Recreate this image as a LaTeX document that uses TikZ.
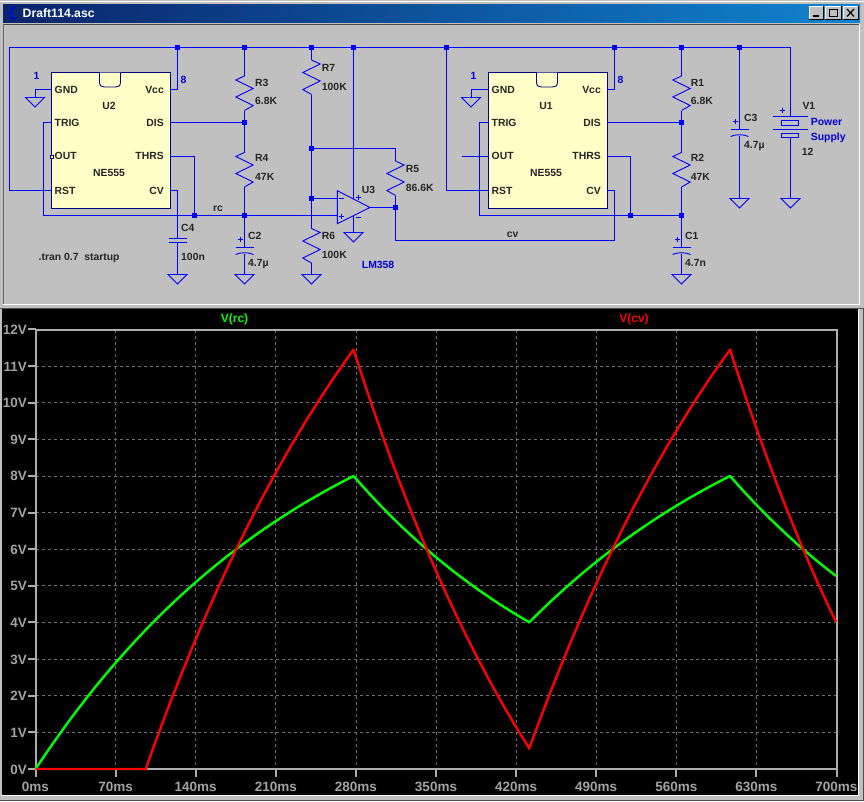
\documentclass[tikz,border=0pt]{standalone}
\usepackage{fontspec}
\setmainfont{Liberation Sans}
\definecolor{wingray}{HTML}{C0C0C0}
\definecolor{wire}{HTML}{0000FF}
\definecolor{ic}{HTML}{FFFFC8}
\definecolor{icline}{HTML}{000080}
\definecolor{titleL}{HTML}{0A246A}
\definecolor{titleR}{HTML}{1084D0}
\definecolor{gridc}{HTML}{707070}
\definecolor{traceG}{HTML}{00FF00}
\definecolor{traceR}{HTML}{FF0000}
\tikzset{
  x=1pt,y=-1pt,
  wires/.style={draw=wire,line width=0.9pt,line join=miter},
  chip/.style={fill=ic,draw=icline,line width=0.9pt},
  txt/.style={font=\fontsize{10.4}{12}\selectfont\bfseries,inner sep=0pt,text=black!85},
  lab/.style={txt,anchor=base west,yshift=-3.7pt},
  labr/.style={txt,anchor=base east,yshift=-3.7pt},
  labc/.style={txt,anchor=base,yshift=-3.7pt},
  bl/.style={text=wire!85!black},
  axl/.style={font=\fontsize{13.5}{15}\selectfont\bfseries,inner sep=0pt,text=wingray!85!black},
  axisline/.style={draw=wingray!90!black,line width=2pt},
  gridl/.style={draw=gridc,line width=0.8pt,dash pattern=on 3pt off 3pt},
  tr/.style={line width=2.4pt,line join=round},
  btn/.style={fill=wingray,draw=black,line width=0.8pt},
  jun/.style={fill=wire,draw=none}
}
% ground: name, top-centre coordinate
\newcommand{\Gnd}[2]{\coordinate (#1) at (#2);
  \draw[wires] (#1) ++(-9.5,0) -- ++(19,0) -- ++(-9.5,9.5) -- cycle;}
% resistor: name, top, flip
\newcommand{\Res}[3]{\begin{scope}[shift={(#2)}]
  \coordinate (#1t) at (0,0); \coordinate (#1b) at (0,34.5);
  \draw[wires] (#1t) -- ({#3*8.7},4) -- ({-#3*8.7},12.5) -- ({#3*8.7},21) -- ({-#3*8.7},29.5) -- (#1b);
  \end{scope}}
% polar cap: name, top plate
\newcommand{\PCap}[2]{\begin{scope}[shift={(#2)}]
  \coordinate (#1t) at (0,0); \coordinate (#1b) at (0,6);
  \draw[wires] (-9,0) -- (9,0);
  \draw[wires] (-9,7) .. controls (-4,4.6) and (4,4.6) .. (9,7);
  \draw[wires] (-6.5,-8) -- (-1.5,-8) (-4,-10.5) -- (-4,-5.5);
  \end{scope}}
% 555 chip: name, left x, reference text
\newcommand{\Chip}[3]{%
  \node[chip,inner sep=0pt,minimum width=118.9pt,minimum height=135.9pt,anchor=north west] (#1) at ({#2-0.45},72.05) {};
  \draw[chip] ({#2+48},72.5) -- ({#2+48},82) .. controls ({#2+48},86) and ({#2+50},87) .. ({#2+53},87) -- ({#2+64},87) .. controls ({#2+67},87) and ({#2+69},86) .. ({#2+69},82) -- ({#2+69},72.5);
  \node[labc] (#1name) at ({#2+57.5},106) {#3};
  \node[labc] (#1type) at ({#2+57.5},173) {NE555};
  \node[lab] (#1gnd) at ({#2+3},89.5) {GND};
  \node[lab] (#1trig) at ({#2+3},122.5) {TRIG};
  \node[lab] (#1out) at ({#2+3},156) {OUT};
  \node[lab] (#1rst) at ({#2+3},190.5) {RST};
  \node[labr] (#1vcc) at ({#2+112.5},89.5) {Vcc};
  \node[labr] (#1dis) at ({#2+112.5},122.5) {DIS};
  \node[labr] (#1thrs) at ({#2+112.5},156) {THRS};
  \node[labr] (#1cv) at ({#2+112.5},190.5) {CV};
  \coordinate (#1pgnd) at (#2,89.5);
  \coordinate (#1ptrig) at (#2,122.5);
  \coordinate (#1pout) at (#2,156);
  \coordinate (#1prst) at (#2,190.5);
  \coordinate (#1pvcc) at ({#2+118},89.5);
  \coordinate (#1pdis) at ({#2+118},122.5);
  \coordinate (#1pthrs) at ({#2+118},156);
  \coordinate (#1pcv) at ({#2+118},190.5);
}
\begin{document}
\begin{tikzpicture}
\useasboundingbox (0,0) rectangle (864,801);
% window
\fill[wingray] (0,0) rectangle (864,801);
\draw[white,line width=1pt] (0,1.5) -- (864,1.5);
\shade[left color=titleL,right color=titleR] (3,4) rectangle (860,22);
\draw[black!70,line width=1pt] (3,24) -- (860,24);
\draw[black!60,line width=1pt] (3.5,24) -- (3.5,304);
\draw[white,line width=1.2pt] (3,304.5) -- (860,304.5) (859.5,24) -- (859.5,304);
\draw[black!70,line width=1pt] (0,308) -- (864,308);
\node[font=\fontsize{12.2}{14}\selectfont\bfseries,text=white,anchor=west,inner sep=0pt] (wintitle) at (22.5,13) {Draft114.asc};
\draw[wire,line width=1pt] (11,7) -- (11,19) (6,13) -- (11,13) (11,10) -- (16,6.5) (11,16) -- (16,19.5);
% buttons
\fill[btn] (809,6) rectangle (823,19);
\fill[btn] (825,6) rectangle (841,19);
\fill[btn] (843,6) rectangle (858,19);
\draw[white,line width=0.8pt] (809,19) |- (823,6) (825,19) |- (841,6) (843,19) |- (858,6);
\draw[black,line width=1.6pt] (813,16) -- (819,16);
\draw[black,line width=1pt] (829,9) rectangle (837,16.5);
\draw[black,line width=1.2pt] (847,9) -- (854,16.5) (854,9) -- (847,16.5);

% chips
\Chip{U2}{51.5}{U2}
\Chip{U1}{488.5}{U1}

% net end points
\coordinate (tl) at (9.5,47.5);
\coordinate (tr) at (790.5,47.5);
\coordinate (rcl) at (43.5,215.5);

% resistors
\Res{R3}{244.5,76}{-1}
\Res{R4}{244.5,152.5}{-1}
\Res{R7}{311.5,60}{1}
\Res{R5}{395.5,161}{1}
\Res{R6}{311.5,228.5}{1}
\Res{R1}{681.5,76}{-1}
\Res{R2}{681.5,152.5}{-1}
% capacitors
\PCap{C2}{244.5,247.5}
\PCap{C1}{681.5,247.5}
\PCap{C3}{739.5,129.5}
\coordinate (C4t) at (177.5,238.5);
\coordinate (C4b) at (177.5,242.5);
\draw[wires] (168.5,238.5) -- (186.5,238.5) (168.5,242.5) -- (186.5,242.5);
% grounds
\Gnd{G1}{35,97.5}
\Gnd{G2}{471,97.5}
\Gnd{G3}{177.5,274.5}
\Gnd{G4}{244.5,274.5}
\Gnd{G5}{311.5,274.5}
\Gnd{G6}{353.5,232.5}
\Gnd{G7}{681.5,274.5}
\Gnd{G8}{739.5,198.5}
\Gnd{G9}{790.5,198.5}
% opamp
\coordinate (Oa) at (337.3,190.7);
\coordinate (Ob) at (337.3,223.7);
\coordinate (Oc) at (370,207.5);
\draw[wires] (Oa) -- (Oc) -- (Ob) -- cycle;
\coordinate (Oinm) at (337.3,198.5);
\coordinate (Oinp) at (337.3,215.5);
\coordinate (Ovp) at (353.5,198.9);
\coordinate (Ovm) at (353.5,215.7);
\draw[wires] (339,198) -- (344,198) (339,216) -- (344,216) (341.5,213.5) -- (341.5,218.5);
\draw[wires] (355.5,197) -- (360.5,197) (358,194.5) -- (358,199.5) (355.5,217) -- (360.5,217);
% battery
\coordinate (V1t) at (790.5,116.5);
\coordinate (V1b) at (790.5,137.3);
\draw[wires] (773.3,116.5) -- (807.7,116.5) (773.3,129.5) -- (807.7,129.5);
\draw[wires] (781.7,120.7) rectangle (798.7,125.3) (781.7,133) rectangle (798.7,137.3);
\draw[wires] (779.5,110) -- (784.5,110) (782,107.5) -- (782,112.5);

% net junction coordinates
\coordinate (jA) at (177.5,47.5);
\coordinate (jB) at (244.5,47.5);
\coordinate (jC) at (311.5,47.5);
\coordinate (jD) at (353.5,47.5);
\coordinate (jE) at (446.5,47.5);
\coordinate (jF) at (614.5,47.5);
\coordinate (jG) at (681.5,47.5);
\coordinate (jH) at (739.5,47.5);
\coordinate (jI) at (244.5,122.5);
\coordinate (jJ) at (194.5,215.5);
\coordinate (jK) at (244.5,215.5);
\coordinate (jL) at (311.5,148.5);
\coordinate (jM) at (311.5,198.5);
\coordinate (jN) at (395.5,207.5);
\coordinate (jO) at (681.5,122.5);
\coordinate (jP) at (630.5,215.5);
\coordinate (jQ) at (681.5,215.5);
\coordinate (OUTend) at (462,156);

% wires
\draw[wires] (U2prst) -| (tl) -- (tr) -- (V1t);
\draw[wires] (V1b) -- (G9);
\draw[wires] (U2pgnd) -| (G1);
\draw[wires] (U2pvcc) -| (jA);
\draw[wires] (U2pdis) -- (jI);
\draw[wires] (U2pthrs) -| (jJ);
\draw[wires] (U2pcv) -| (C4t);
\draw[wires] (C4b) -- (G3);
\draw[wires] (U2ptrig) -| (rcl) -- (Oinp);
\draw[wires] (jB) -- (R3t) (R3b) -- (jI) -- (R4t) (R4b) -- (jK) -- (C2t) (C2b) -- (G4);
\draw[wires] (jC) -- (R7t) (R7b) -- (jL) -- (jM) -- (R6t) (R6b) -- (G5);
\draw[wires] (jM) -- (Oinm);
\draw[wires] (jD) -- (Ovp) (Ovm) -- (G6);
\draw[wires] (jL) -| (R5t) (R5b) -- (jN);
\draw[wires] (Oc) -- (jN);
\coordinate (cvA) at (395.5,240);
\coordinate (cvB) at (614.5,240);
\draw[wires] (jN) -- (cvA) -- (cvB) |- (U1pcv);
\draw[wires] (U1prst) -| (jE);
\draw[wires] (U1pgnd) -| (G2);
\draw[wires] (U1pout) -- (OUTend);
\coordinate (trB) at (479.5,122.5);
\coordinate (trC) at (479.5,215.5);
\draw[wires] (U1ptrig) -- (trB) -- (trC) -- (jQ);
\draw[wires] (U1pvcc) -| (jF);
\draw[wires] (U1pdis) -- (jO);
\draw[wires] (U1pthrs) -| (jP);
\draw[wires] (jG) -- (R1t) (R1b) -- (jO) -- (R2t) (R2b) -- (jQ) -- (C1t) (C1b) -- (G7);
\draw[wires] (jH) -- (C3t) (C3b) -- (G8);

% junction squares
\foreach \c in {jA,jB,jC,jD,jE,jF,jG,jH,jI,jJ,jK,jL,jM,jN,jO,jP,jQ}
  {\fill[jun] (\c) ++(-2.3,-2.3) rectangle ++(4.6,4.6);}
\draw[draw=icline,line width=0.8pt,fill=ic] (50,155) rectangle (53,158);

% labels
\node[lab,bl] (p1a) at (33.5,76) {1};
\node[lab,bl] (p8a) at (180.5,80) {8};
\node[lab,bl] (p1b) at (470.5,76) {1};
\node[lab,bl] (p8b) at (617.5,80) {8};
\node[lab] (tR3) at (255,83) {R3};
\node[lab] (vR3) at (255,101) {6.8K};
\node[lab] (tR4) at (255,158) {R4};
\node[lab] (vR4) at (255,177) {47K};
\node[lab] (tC4) at (181,228) {C4};
\node[lab] (vC4) at (181,257) {100n};
\node[lab] (tC2) at (248,236) {C2};
\node[lab] (vC2) at (248,262.5) {4.7µ};
\node[labc] (nrc) at (218,208) {rc};
\node[labc] (ncv) at (512.7,234) {cv};
\node[lab] (spice) at (38.5,257) {.tran 0.7\ \ startup};
\node[lab] (tR7) at (321.7,68) {R7};
\node[lab] (vR7) at (321.7,87) {100K};
\node[lab] (tR5) at (405.7,169) {R5};
\node[lab] (vR5) at (405.7,188) {86.6K};
\node[lab] (tR6) at (321.7,236) {R6};
\node[lab] (vR6) at (321.7,255) {100K};
\node[lab] (tU3) at (361.7,190) {U3};
\node[lab,bl] (vU3) at (361.7,265) {LM358};
\node[lab] (tR1) at (690.7,83) {R1};
\node[lab] (vR1) at (690.7,101) {6.8K};
\node[lab] (tR2) at (690.7,158) {R2};
\node[lab] (vR2) at (690.7,177) {47K};
\node[lab] (tC1) at (685,236) {C1};
\node[lab] (vC1) at (685,262.5) {4.7n};
\node[lab] (tC3) at (744,118) {C3};
\node[lab] (vC3) at (744,144.5) {4.7µ};
\node[lab] (tV1) at (802.3,106) {V1};
\node[lab,bl] (pw1) at (810.7,122) {Power};
\node[lab,bl] (pw2) at (810.7,137) {Supply};
\node[lab] (vV1) at (801.7,152) {12};

% ---- plot
\fill[black] (2,309) rectangle (858,795.5);
\draw[white,line width=1.2pt] (1,795.5) -- (858.5,795.5) -- (858.5,309);
\draw[black!70,line width=1pt] (0,800) -- (864,800) (863.5,309) -- (863.5,800);
% grid
\foreach \i in {1,...,9} { \draw[gridl] ({35.5+\i*80.1},330) -- ({35.5+\i*80.1},769); }
\foreach \i in {1,...,11} { \draw[gridl] (36,{769-\i*36.63}) -- (836,{769-\i*36.63}); }
% axes
\draw[axisline] (35.5,329.5) rectangle (836.5,769);
\foreach \i in {0,...,12} {
  \draw[axisline] (28,{769-\i*36.63}) -- (35.5,{769-\i*36.63});
  \node[axl,anchor=base east,yshift=-5pt] (yt\i) at (27,{769-\i*36.63}) {\i V};
}
\foreach \i/\l in {0/0ms,1/70ms,2/140ms,3/210ms,4/280ms,5/350ms,6/420ms,7/490ms,8/560ms,9/630ms} {
  \draw[axisline] ({35.5+\i*80.1},769) -- ({35.5+\i*80.1},777);
  \node[axl,anchor=base,yshift=-5pt] (xt\i) at ({35.5+\i*80.1},786) {\l};
}
\draw[axisline] (836.5,769) -- (836.5,777);
\node[axl,anchor=base east,yshift=-5pt] (xt10) at (857.5,786) {700ms};
\node[font=\fontsize{12}{14}\selectfont\bfseries,text=traceG,inner sep=0pt] (lrc) at (234.5,319) {V(rc)};
\node[font=\fontsize{12}{14}\selectfont\bfseries,text=traceR,inner sep=0pt] (lcv) at (634,319) {V(cv)};
% traces: rc in volts, y = 769-36.63 V
\draw[traceG,tr] plot[domain=35.5:353.5,samples=40] (\x,{769-36.63*12*(1-exp(-(\x-35.5)/289.5))})
  -- plot[domain=353.5:529,samples=20] (\x,{769-36.63*8*exp(-(\x-353.5)/254)})
  -- plot[domain=529:730,samples=20] (\x,{769-36.63*(12-8*exp(-(\x-529)/290))})
  -- plot[domain=730:836,samples=12] (\x,{769-36.63*8*exp(-(\x-730)/254)});
\draw[traceR,tr] (35.5,769) -- (146.5,769)
  -- plot[domain=146.5:353.5,samples=24] (\x,{769-36.63*(6+2.725*(12*(1-exp(-(\x-35.5)/289.5))-6))})
  -- plot[domain=353.5:529,samples=20] (\x,{769-36.63*(6+2.725*(8*exp(-(\x-353.5)/254)-6))})
  -- plot[domain=529:730,samples=20] (\x,{769-36.63*(6+2.725*(12-8*exp(-(\x-529)/290)-6))})
  -- plot[domain=730:836,samples=12] (\x,{769-36.63*(6+2.725*(8*exp(-(\x-730)/254)-6))});
\end{tikzpicture}
\end{document}
